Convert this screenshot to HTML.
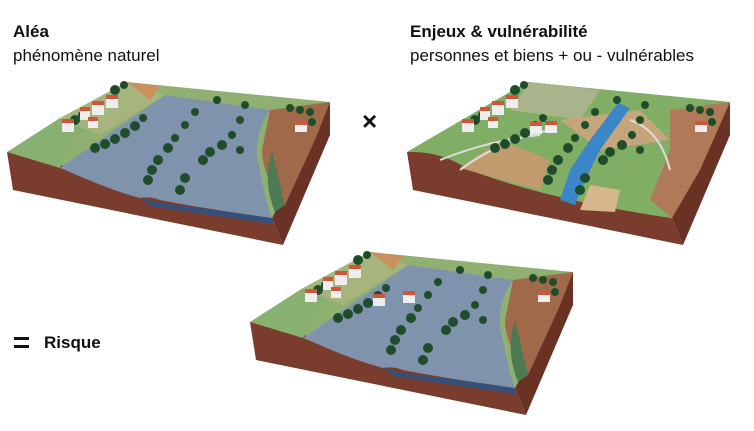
<!DOCTYPE html>
<html><head><meta charset="utf-8"><style>
html,body{margin:0;padding:0;background:#fff;width:754px;height:431px;overflow:hidden}
svg{display:block}
text{font-family:"Liberation Sans",sans-serif;fill:#111}
</style></head><body>
<svg width="754" height="431" viewBox="0 0 754 431" xmlns="http://www.w3.org/2000/svg">
<defs>
  <g id="base">
    <path d="M7,152 Q40,150 70,170 Q150,200 272,218 L283,245 L13,190 Z" fill="#7a3c2c"/>
    <path d="M272,218 L330,102 L330,135 L283,245 Z" fill="#6a3224"/>
    <path d="M7,152 L127,82 L330,102 L272,218 Q150,200 70,170 Q40,150 7,152 Z" fill="#8fb070"/>
  </g>
  <g id="water">
    <path d="M60,168 L165,95 L270,110 Q250,140 260,170 Q265,200 272,218 Q200,208 160,200 Q150,196 140,198 Q110,190 70,172 Z" fill="#7f93ad"/>
    <path d="M140,198 Q160,204 200,208 L272,218 L274,224 Q200,214 150,206 Z" fill="#36507a"/>
    <path d="M270,110 L330,102 L315,140 L285,205 Q262,175 262,150 Z" fill="#a06a4a"/>
    <path d="M272,150 Q262,180 275,212 L285,205 Z" fill="#4d7a52"/>
    <path d="M7,152 L60,118 L90,118 L70,150 L60,168 Z" fill="#88b070"/>
    <path d="M60,118 L127,82 L165,95 L100,135 Z" fill="#a6b57e"/>
    <path d="M127,82 L160,86 L150,100 Z" fill="#c9915e"/>
  </g>
  <g id="trees" fill="#1f4d2c">
    <circle cx="95" cy="148" r="5"/><circle cx="105" cy="144" r="5"/><circle cx="115" cy="139" r="5"/><circle cx="125" cy="133" r="5"/><circle cx="135" cy="126" r="5"/><circle cx="143" cy="118" r="4"/>
    <circle cx="148" cy="180" r="5"/><circle cx="152" cy="170" r="5"/><circle cx="158" cy="160" r="5"/><circle cx="168" cy="148" r="5"/><circle cx="175" cy="138" r="4"/><circle cx="185" cy="125" r="4"/><circle cx="195" cy="112" r="4"/><circle cx="217" cy="100" r="4"/>
    <circle cx="180" cy="190" r="5"/><circle cx="185" cy="178" r="5"/><circle cx="203" cy="160" r="5"/><circle cx="210" cy="152" r="5"/><circle cx="222" cy="145" r="5"/><circle cx="232" cy="135" r="4"/><circle cx="240" cy="120" r="4"/><circle cx="245" cy="105" r="4"/><circle cx="240" cy="150" r="4"/>
    <circle cx="115" cy="90" r="5"/><circle cx="124" cy="85" r="4"/><circle cx="75" cy="120" r="5"/><circle cx="82" cy="115" r="4"/>
    <circle cx="290" cy="108" r="4"/><circle cx="300" cy="110" r="4"/><circle cx="310" cy="112" r="4"/><circle cx="312" cy="122" r="4"/>
  </g>
  <g id="village">
    <rect x="62" y="122" width="12" height="10" fill="#eee"/><rect x="62" y="119" width="12" height="4" fill="#d0553a"/>
    <rect x="80" y="110" width="10" height="10" fill="#eee"/><rect x="80" y="107" width="10" height="4" fill="#d0553a"/>
    <rect x="92" y="104" width="12" height="11" fill="#eee"/><rect x="92" y="101" width="12" height="4" fill="#d0553a"/>
    <rect x="106" y="98" width="12" height="10" fill="#eee"/><rect x="106" y="95" width="12" height="4" fill="#d0553a"/>
    <rect x="88" y="120" width="10" height="8" fill="#eee"/><rect x="88" y="117" width="10" height="4" fill="#d0553a"/>
    <rect x="295" y="124" width="12" height="8" fill="#eee"/><rect x="295" y="121" width="12" height="4" fill="#d0553a"/>
  </g>
</defs>

<text x="13" y="37" font-size="17" font-weight="bold">Aléa</text>
<text x="13" y="61" font-size="17">phénomène naturel</text>
<text x="410" y="37" font-size="17" font-weight="bold">Enjeux &amp; vulnérabilité</text>
<text x="410" y="61" font-size="17">personnes et biens + ou - vulnérables</text>
<text x="362" y="130" font-size="26" font-weight="bold">×</text>
<rect x="14" y="337" width="15" height="3" fill="#111"/><rect x="14" y="345" width="15" height="3" fill="#111"/>
<text x="44" y="348" font-size="17" font-weight="bold">Risque</text>

<!-- block 1 -->
<g>
  <use href="#base"/><use href="#water"/><use href="#trees"/><use href="#village"/>
</g>
<!-- block 3 -->
<g transform="translate(400,0)">
  <use href="#base"/>
  <path d="M7,152 L127,82 L330,102 L272,218 Q150,200 70,170 Q40,150 7,152 Z" fill="#7fae64"/>
  <path d="M130,82 L200,90 L180,120 L110,110 Z" fill="#a9b48c"/>
  <path d="M160,120 L240,110 L270,140 L200,150 Z" fill="#c6a57a"/>
  <path d="M270,110 L330,102 L300,170 L272,218 L250,200 L270,150 Z" fill="#b07a58"/>
  <path d="M60,168 L140,190 L150,160 L100,140 Z" fill="#c19a6e"/>
  <path d="M180,210 L215,212 L220,190 L190,185 Z" fill="#d6b68a"/>
  <path d="M218,103 L230,108 L200,150 L185,180 L175,205 L160,200 L170,170 L190,140 Z" fill="#3a86c9"/>
  <path d="M40,160 Q90,140 140,135 M60,170 Q100,140 150,130 M230,120 Q260,130 270,170" stroke="#ddd" stroke-width="2" fill="none"/>
  <use href="#trees"/><use href="#village"/>
  <rect x="130" y="125" width="12" height="9" fill="#eee"/><rect x="130" y="122" width="12" height="4" fill="#d0553a"/>
  <rect x="145" y="124" width="12" height="9" fill="#eee"/><rect x="145" y="121" width="12" height="4" fill="#d0553a"/>
</g>
<!-- block 2 -->
<g transform="translate(243,170)">
  <use href="#base"/><use href="#water"/><use href="#trees"/><use href="#village"/>
  <rect x="130" y="127" width="12" height="9" fill="#eee"/><rect x="130" y="124" width="12" height="4" fill="#d0553a"/>
  <rect x="160" y="124" width="12" height="9" fill="#eee"/><rect x="160" y="121" width="12" height="4" fill="#d0553a"/>
</g>
</svg>
</body></html>
